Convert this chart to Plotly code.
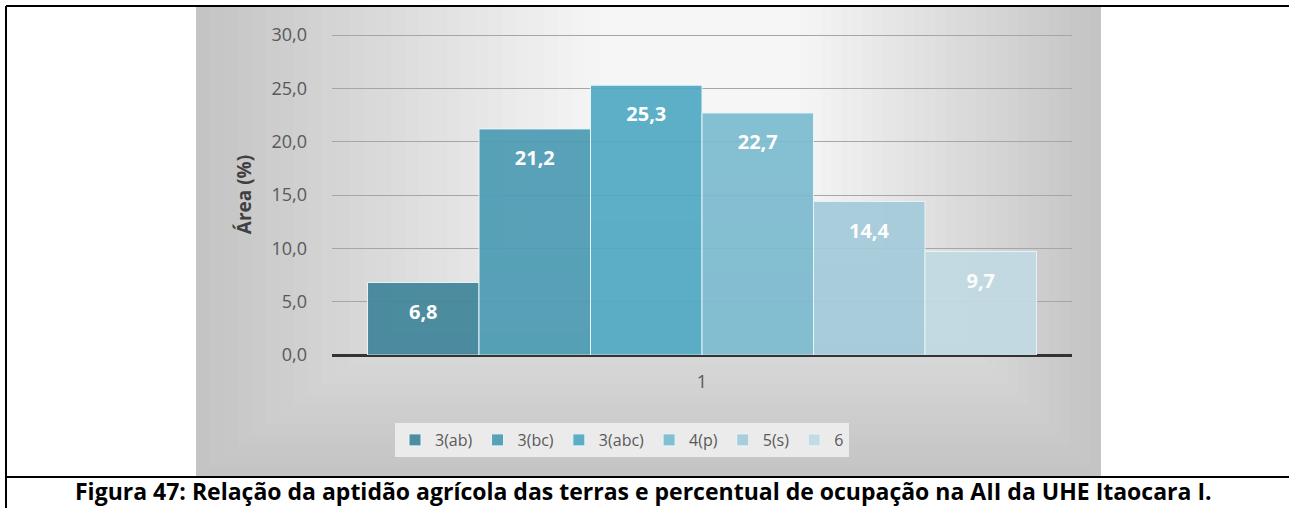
import plotly.graph_objects as go

W, H = 1289, 508

# series data (one category "1")
series = ["3(ab)", "3(bc)", "3(abc)", "4(p)", "5(s)", "6"]
values = [6.8, 21.2, 25.3, 22.7, 14.4, 9.7]
colors = ["#42869B", "#4D9CB4", "#52AAC4", "#7DBBD0", "#A5CBDA", "#C2DAE3"]
category = ["1"]
yticks = [0, 5, 10, 15, 20, 25, 30]

caption = "Figura 47: Relação da aptidão agrícola das terras e percentual de ocupação na AII da UHE Itaocara I."

fig = go.Figure()
for name, v, c in zip(series, values, colors):
    fig.add_trace(go.Bar(
        x=category, y=[v], name=name,
        marker=dict(color=c, line=dict(color="#E8F6FA", width=1)),
        opacity=0.93,
        # blank first line pushes the value a bit below the bar top
        texttemplate="&nbsp;<br><span style='font-size:20px'><b>%{y:.1f}</b></span>",
        textposition="inside", insidetextanchor="end",
        textfont=dict(family="Open Sans", size=14, color="white"),
        constraintext="none",
    ))

def px(x):
    return x / W

def py(y):
    return 1 - y / H

# gray chart background, lighter toward the upper middle (stepped rectangles)
shapes = []
n = 30
c0, c1 = 0xC4, 0xF6
for i in range(n):
    t = i / (n - 1)
    g = round(c0 + (c1 - c0) * t)
    col = "#%02X%02X%02X" % (g, g, g)
    x0 = 196 + (600 - 196) * t
    x1 = 1101 - (1101 - 800) * t
    y1 = 476 - (476 - 180) * t
    shapes.append(dict(type="rect", xref="paper", yref="paper", layer="below",
                       x0=px(x0), x1=px(x1), y0=py(y1), y1=py(7),
                       fillcolor=col, line=dict(width=0)))

# table borders
for x0, y0, x1, y1 in [(6, 6, 1289, 6), (6, 6, 6, 508), (6, 477, 1289, 477)]:
    shapes.append(dict(type="line", xref="paper", yref="paper",
                       x0=px(x0), x1=px(x1), y0=py(y0), y1=py(y1),
                       line=dict(color="black", width=2)))

fig.update_layout(
    width=W, height=H, autosize=False,
    margin=dict(l=0, r=0, t=0, b=0, pad=0, autoexpand=False),
    paper_bgcolor="white", plot_bgcolor="rgba(0,0,0,0)",
    separators=",.",
    barmode="group", bargap=0.096, bargroupgap=0,
    shapes=shapes,
    font=dict(family="Open Sans", color="#595959", size=18),
    xaxis=dict(domain=[px(332), px(1072)], showgrid=False, ticks="",
               automargin=False, ticklabelstandoff=14,
               tickfont=dict(size=18, color="#595959"),
               showline=False),
    yaxis=dict(domain=[py(355), py(34)], range=[0, 30.1], tickvals=yticks,
               automargin=True,
               tickformat=".1f", showgrid=True, gridcolor="#A6A6A6", gridwidth=1,
               zeroline=True, zerolinecolor="#333333", zerolinewidth=3,
               ticks="", ticklabelstandoff=24,
               tickfont=dict(size=18, color="#595959"),
               title=dict(text="<b>Área (%)</b>", standoff=14,
                          font=dict(family="Open Sans", size=19, color="#404040"))),
    legend=dict(orientation="h", x=px(395), y=py(423), xanchor="left", yanchor="top",
                bgcolor="#EBEBEB", font=dict(size=16, color="#595959"),
                itemwidth=30, tracegroupgap=0),
    annotations=[dict(text="<b>" + caption + "</b>", xref="paper", yref="paper",
                      x=px(643), y=py(491), xanchor="center", yanchor="middle",
                      showarrow=False,
                      font=dict(family="Open Sans", size=23, color="black"))],
)

reset_css = (
    "var s=document.createElement('style');"
    "s.textContent='html,body{margin:0;padding:0;overflow:hidden;}';"
    "document.head.appendChild(s);"
)
fig.write_html("out.html", config={"displayModeBar": False}, post_script=reset_css)
